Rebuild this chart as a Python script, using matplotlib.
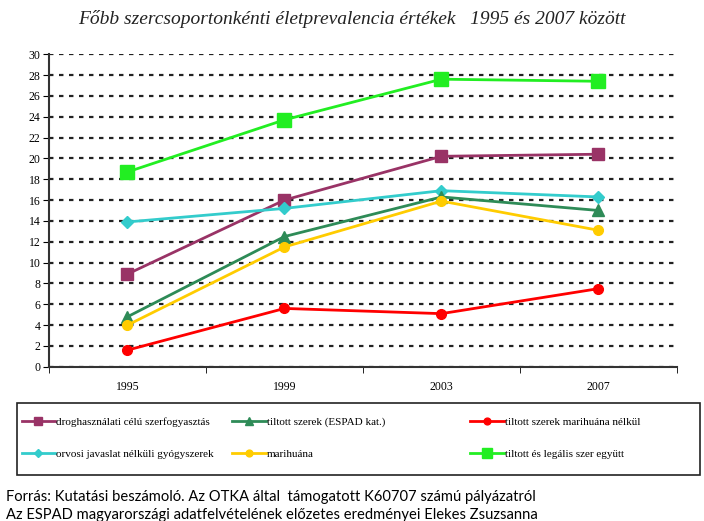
import matplotlib
matplotlib.use("Agg")
import matplotlib.pyplot as plt
from matplotlib.patches import Rectangle

years = ["1995", "1999", "2003", "2007"]
labels = ["droghasználati célú szerfogyasztás", "orvosi javaslat nélküli gyógyszerek",
          "tiltott szerek (ESPAD kat.)", "marihuána",
          "tiltott szerek marihuána nélkül", "tiltott és legális szer együtt"]
drog = [8.9, 16.0, 20.2, 20.4]
orvosi = [13.9, 15.2, 16.9, 16.3]
espad = [4.8, 12.5, 16.3, 15.0]
marihuana = [4.0, 11.5, 15.9, 13.1]
tiltott = [1.6, 5.6, 5.1, 7.5]
egyutt = [18.7, 23.7, 27.6, 27.4]

series = [drog, orvosi, espad, marihuana, tiltott, egyutt]
colors = ["#993366", "#33CCCC", "#2E8B57", "#FFCC00", "#FF0000", "#22EE22"]
markers = ["s", "D", "^", "o", "o", "s"]
msizes = [9, 6, 8, 7, 7, 10]

fig = plt.figure(figsize=(7.04, 5.21), dpi=100)
ax = fig.add_axes([0.0696, 0.296, 0.892, 0.600])
x = range(len(years))
handles = []
for s, c, m, ms in zip(series, colors, markers, msizes):
    h, = ax.plot(x, s, color=c, marker=m, markersize=ms, linewidth=2, zorder=3)
    handles.append(h)

ax.set_xlim(-0.5, 3.5)
ax.set_ylim(0, 30)
ax.set_yticks(range(0, 31, 2))
ax.set_xticks(list(x))
ax.set_xticklabels(years)
ax.set_xticks([-0.5, 0.5, 1.5, 2.5, 3.5], minor=True)
ax.tick_params(axis="x", which="major", length=0, pad=10)
ax.tick_params(axis="x", which="minor", length=4, direction="out")
ax.tick_params(axis="y", length=4, direction="out", pad=2)
for lab in ax.get_xticklabels() + ax.get_yticklabels():
    lab.set_fontfamily("Liberation Serif")
    lab.set_fontsize(8.5)
ax.grid(axis="y", color="#222222", linestyle=(0, (2, 2.5)), linewidth=1.6)
for sp in ["top", "right"]:
    ax.spines[sp].set_visible(False)
for sp in ["left", "bottom"]:
    ax.spines[sp].set_color("#333333")
    ax.spines[sp].set_linewidth(1.5)

fig.text(0.5, 0.963, "Főbb szercsoportonkénti életprevalencia értékek   1995 és 2007 között",
         ha="center", va="center", fontfamily="Liberation Serif", style="italic",
         fontsize=14, color="#222222")

# legend box with three columns
fig.patches.append(Rectangle((0.024, 0.088), 0.970, 0.138, transform=fig.transFigure,
                             fill=False, edgecolor="#222222", linewidth=1.2))
col_x = [0.031, 0.330, 0.668]
for i, cx in enumerate(col_x):
    fig.legend(handles[2 * i:2 * i + 2], labels[2 * i:2 * i + 2], loc="center left",
               bbox_to_anchor=(cx, 0.159), prop={"family": "Liberation Serif", "size": 8},
               frameon=False, handlelength=3, handletextpad=0.1, markerscale=0.7,
               labelspacing=2.0, borderpad=0, borderaxespad=0)

fig.text(0.008, 0.047, "Forrás: Kutatási beszámoló. Az OTKA által  támogatott K60707 számú pályázatról",
         fontfamily="Lato", fontsize=10.6, va="center")
fig.text(0.008, 0.012, "Az ESPAD magyarországi adatfelvételének előzetes eredményei Elekes Zsuzsanna",
         fontfamily="Lato", fontsize=10.6, va="center")

fig.savefig("out.png", dpi=100)
